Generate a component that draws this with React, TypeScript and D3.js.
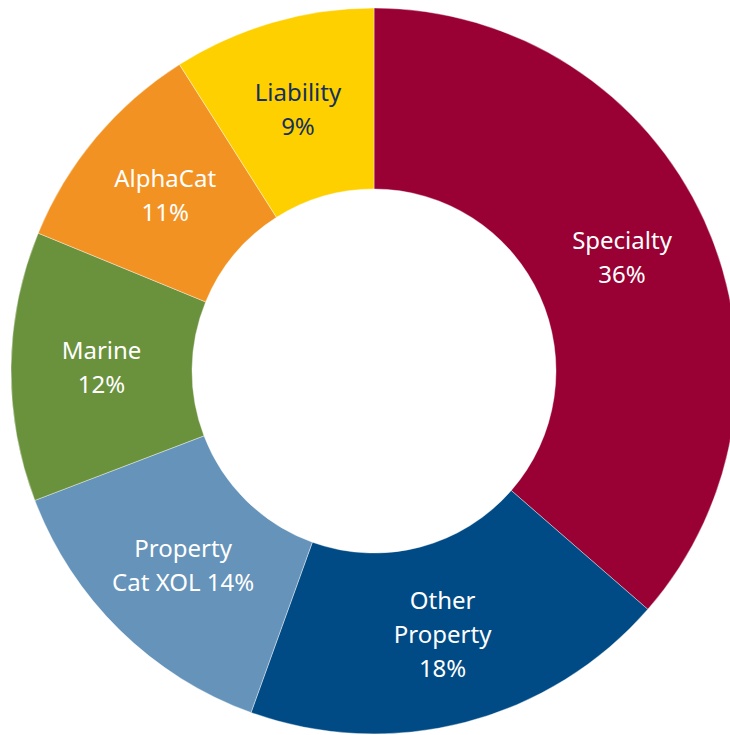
import React, { useEffect, useRef } from 'react';
import * as d3 from 'd3';

// slice shares (clockwise from 12 o'clock)
const categories = ['Specialty', 'Other Property', 'Property Cat XOL', 'Marine', 'AlphaCat', 'Liability'];
const values = [36.4, 19.1, 13.7, 12.0, 9.8, 9.0];
const labelLines = [
  ['Specialty', '36%'],
  ['Other', 'Property', '18%'],
  ['Property', 'Cat XOL 14%'],
  ['Marine', '12%'],
  ['AlphaCat', '11%'],
  ['Liability', '9%'],
];
const colors = ['#990033', '#004B85', '#6593BA', '#6A913C', '#F29222', '#FFD000'];
const textColors = ['#ffffff', '#ffffff', '#ffffff', '#ffffff', '#ffffff', '#14305C'];

const W = 730;
const H = 735;
const cx = 374;
const cy = 371;
const outerR = 363;
const innerR = 182;

const App = () => {
  const ref = useRef<SVGSVGElement>(null);

  useEffect(() => {
    const svg = d3.select(ref.current);
    svg.selectAll('*').remove();

    const rows = categories.map((c, i) => ({ name: c, value: values[i], i }));
    const pie = d3.pie<any>().sort(null).value(d => d.value);
    const arc = d3.arc<any>().innerRadius(innerR).outerRadius(outerR);

    const g = svg.append('g').attr('transform', `translate(${cx},${cy})`);
    const arcs = pie(rows);

    g.selectAll('path.slice')
      .data(arcs)
      .enter()
      .append('path')
      .attr('class', 'slice')
      .attr('d', arc)
      .attr('fill', d => colors[d.data.i])
      .attr('stroke', '#ffffff')
      .attr('stroke-width', 0.4);

    // labels sit at the ring centroid, lines stacked around it
    const lineH = 34;
    arcs.forEach(d => {
      const [x, y] = arc.centroid(d);
      const lines = labelLines[d.data.i];
      const t = g.append('text')
        .attr('x', x)
        .attr('y', y)
        .attr('text-anchor', 'middle')
        .attr('fill', textColors[d.data.i])
        .style('font-family', '"Noto Sans", "Open Sans", sans-serif')
        .style('font-size', '24px');
      lines.forEach((ln, k) => {
        t.append('tspan')
          .attr('x', x)
          .attr('y', y + (k - (lines.length - 1) / 2) * lineH)
          .attr('dy', '0.35em')
          .text(ln);
      });
    });
  }, []);

  return (
    <svg
      ref={ref}
      width={W}
      height={H}
      style={{ position: 'absolute', left: 0, top: 0, background: '#ffffff' }}
    />
  );
};

export default App;
